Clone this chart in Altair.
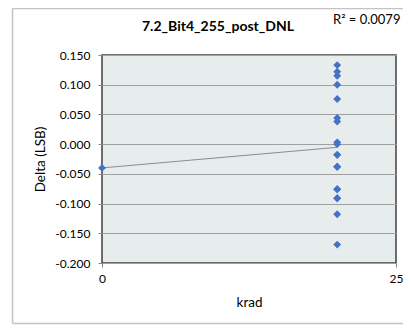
import altair as alt
import pandas as pd

# data
krad = [0] + [20] * 19
delta = [-0.040,
         0.133, 0.122, 0.115, 0.100, 0.076, 0.044, 0.038, 0.003, 0.000,
         -0.018, -0.018, -0.038, -0.038, -0.076, -0.076, -0.091, -0.091,
         -0.118, -0.169]
y_ticks = [-0.200, -0.150, -0.100, -0.050, 0.000, 0.050, 0.100, 0.150]
x_ticks = [0, 25]
title_text = "7.2_Bit4_255_post_DNL"
r2_text = "R\u00b2 = 0.0079"

df = pd.DataFrame({"krad": krad, "delta": delta})

FONT = "Lato"

x_enc = alt.X("krad:Q",
              scale=alt.Scale(domain=[0, 25], nice=False, zero=False),
              axis=alt.Axis(values=x_ticks, title="krad", grid=False,
                            domain=False, tickColor="#868686", tickSize=4,
                            labelFlush=False,
                            labelPadding=6, labelFontSize=12, labelFont=FONT,
                            labelColor="#000000", titleFont=FONT,
                            titleFontSize=13.5, titleFontWeight="normal",
                            titleColor="#000000", titleY=39,
                            titleBaseline="middle"))
y_enc = alt.Y("delta:Q",
              scale=alt.Scale(domain=[-0.2, 0.15], nice=False, zero=False),
              axis=alt.Axis(values=y_ticks, title="Delta (LSB)", grid=True,
                            gridColor="#a0a0a0", gridWidth=1, domain=False,
                            tickColor="#868686", tickSize=4, labelPadding=8,
                            labelExpr="replace(format(datum.value, '.3f'), '\u2212', '-')",
                            labelFontSize=12, labelFont=FONT,
                            labelColor="#000000", titleFont=FONT,
                            titleFontSize=13.5, titleFontWeight="normal",
                            titleColor="#000000", titleX=-62, titleY=104,
                            titleAngle=-90, titleBaseline="middle"))

base = alt.Chart(df)

trend = base.transform_regression("krad", "delta").mark_line(
    color="#8c8c8c", strokeWidth=1).encode(x=x_enc, y=y_enc)

points = base.mark_point(shape="diamond", filled=True, size=62,
                         color="#4472C4", opacity=1).encode(x=x_enc, y=y_enc)

one = alt.Data(values=[{"t": title_text, "r": r2_text}])

title = alt.Chart(one).mark_text(font=FONT, fontSize=14, fontWeight="bold",
                                 color="#000000", align="center",
                                 baseline="middle").encode(
    text="t:N", x=alt.value(116), y=alt.value(-28))

r2 = alt.Chart(one).mark_text(font=FONT, fontSize=13, color="#000000",
                              align="left", baseline="middle").encode(
    text="r:N", x=alt.value(231), y=alt.value(-35))

border_left = alt.Chart(one).mark_rule(color="#c4c4c4", strokeWidth=1.5).encode(
    x=alt.value(-89.5), y=alt.value(-46.5), y2=alt.value(268.5))
border_bottom = alt.Chart(one).mark_rule(color="#c4c4c4", strokeWidth=1.5).encode(
    x=alt.value(-89.5), x2=alt.value(310), y=alt.value(268.5))
border_top = alt.Chart(one).mark_rule(color="#c4c4c4", strokeWidth=1.5).encode(
    x=alt.value(-89.5), x2=alt.value(310), y=alt.value(-46.5))

chart = alt.layer(border_left, border_bottom, border_top, trend, points,
                  title, r2).properties(
    width=294, height=208,
    autosize=alt.AutoSizeParams(type="none"),
    padding={"left": 94, "top": 47, "right": 7, "bottom": 62},
    background="#ffffff",
).configure_view(fill="#e7eded", stroke="#404040", strokeWidth=1.5)

chart.save("out.html", embed_options={"renderer": "svg", "actions": False})
